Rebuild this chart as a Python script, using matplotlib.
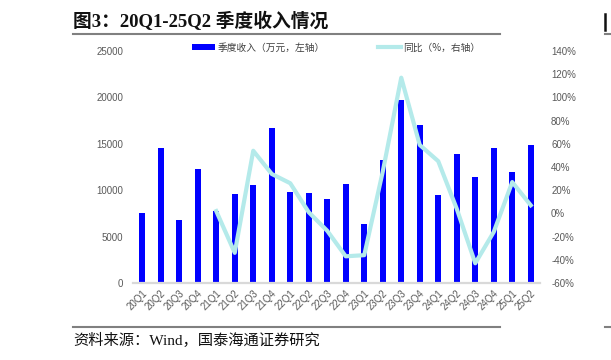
import matplotlib
matplotlib.use("Agg")
import matplotlib.pyplot as plt
from matplotlib.lines import Line2D
from matplotlib.patches import Patch
import numpy as np

plt.rcParams['font.family'] = ['Liberation Sans', 'Noto Sans CJK SC', 'DejaVu Sans']

quarters = ["20Q1", "20Q2", "20Q3", "20Q4", "21Q1", "21Q2", "21Q3", "21Q4",
            "22Q1", "22Q2", "22Q3", "22Q4", "23Q1", "23Q2", "23Q3", "23Q4",
            "24Q1", "24Q2", "24Q3", "24Q4", "25Q1", "25Q2"]
revenue = [7550, 14550, 6800, 12300, 7750, 9550, 10600, 16650,
           9850, 9750, 9050, 10700, 6400, 13300, 19700, 17000,
           9450, 13850, 11400, 14500, 12000, 14900]
yoy = [None, None, None, None, 2, -34, 54, 34,
       26, 1, -15, -37, -36, 36, 117, 59,
       45, 4, -43, -16, 27, 7]
left_ticks = [0, 5000, 10000, 15000, 20000, 25000]
right_ticks = [-60, -40, -20, 0, 20, 40, 60, 80, 100, 120, 140]

W, H = 611, 360
fig = plt.figure(figsize=(W / 100, H / 100), dpi=100)

ax = fig.add_axes([133 / W, 1 - 283 / H, (540 - 133) / W, (283 - 51) / H])
x = np.arange(len(quarters))
ax.bar(x, revenue, width=0.32, color="#0000FF", zorder=2)
ax.set_xlim(-0.5, len(quarters) - 0.5)
ax.set_ylim(0, 25000)
ax.set_yticks(left_ticks)
ax.set_yticklabels([str(v) for v in left_ticks])
ax.set_xticks(x)
ax.set_xticklabels(quarters, rotation=45, ha="right", rotation_mode="anchor")
for s in ["top", "left", "right"]:
    ax.spines[s].set_visible(False)
ax.spines["bottom"].set_color("#D9D9D9")
ax.spines["bottom"].set_linewidth(1.6)
ax.tick_params(axis="both", length=0, colors="#595959", labelsize=7)
ax.tick_params(axis="y", pad=7)
ax.tick_params(axis="x", pad=4)

ax2 = ax.twinx()
yx = [i for i, v in enumerate(yoy) if v is not None]
yv = [v for v in yoy if v is not None]
ax2.plot(yx, yv, color="#B4EAEA", lw=3.0, zorder=3, solid_joinstyle="round")
ax2.set_ylim(-60, 140)
ax2.set_yticks(right_ticks)
ax2.set_yticklabels([f"{v}%" for v in right_ticks])
for s in ["top", "left", "right", "bottom"]:
    ax2.spines[s].set_visible(False)
ax2.tick_params(axis="y", length=0, colors="#595959", labelsize=7, pad=8)

handles = [Patch(facecolor="#0000FF", edgecolor="none"),
           Line2D([0], [0], color="#B4EAEA", lw=3.0)]
leg = ax.legend(handles, ["季度收入（万元，左轴）", "同比（%，右轴）"],
                loc="center", bbox_to_anchor=(0.499, 1.015), ncol=2, frameon=False,
                fontsize=7, columnspacing=5.5, handlelength=2.4, handleheight=0.45,
                handletextpad=0.2, borderaxespad=0)
for t in leg.get_texts():
    t.set_color("#404040")
    t.set_family(["Noto Sans CJK SC", "DejaVu Sans"])

# title
fig.text(73 / W, 1 - 21 / H, "图3：20Q1-25Q2 季度收入情况", fontsize=13.5, fontweight="bold",
         family=["Liberation Serif", "Noto Sans CJK SC"], va="center", ha="left", color="#111111")
fig.add_artist(Line2D([73 / W, 500 / W], [1 - 34 / H, 1 - 34 / H], color="#808080", lw=1.5))
fig.add_artist(Line2D([73 / W, 500 / W], [1 - 327 / H, 1 - 327 / H], color="#808080", lw=1.5))
fig.text(73 / W, 1 - 340 / H, "资料来源：Wind，国泰海通证券研究", fontsize=11,
         family=["Liberation Serif", "Noto Sans CJK SC"], va="center", ha="left", color="#111111")

# fragment of the adjacent panel at the right edge
fig.add_artist(Line2D([604.5 / W, 604.5 / W], [1 - 14 / H, 1 - 30 / H], color="#111111", lw=1.8))
fig.add_artist(Line2D([605 / W, 1.0], [1 - 34 / H, 1 - 34 / H], color="#808080", lw=1.5))
fig.add_artist(Line2D([605 / W, 1.0], [1 - 327 / H, 1 - 327 / H], color="#808080", lw=1.5))

fig.savefig("out.png", dpi=100)
